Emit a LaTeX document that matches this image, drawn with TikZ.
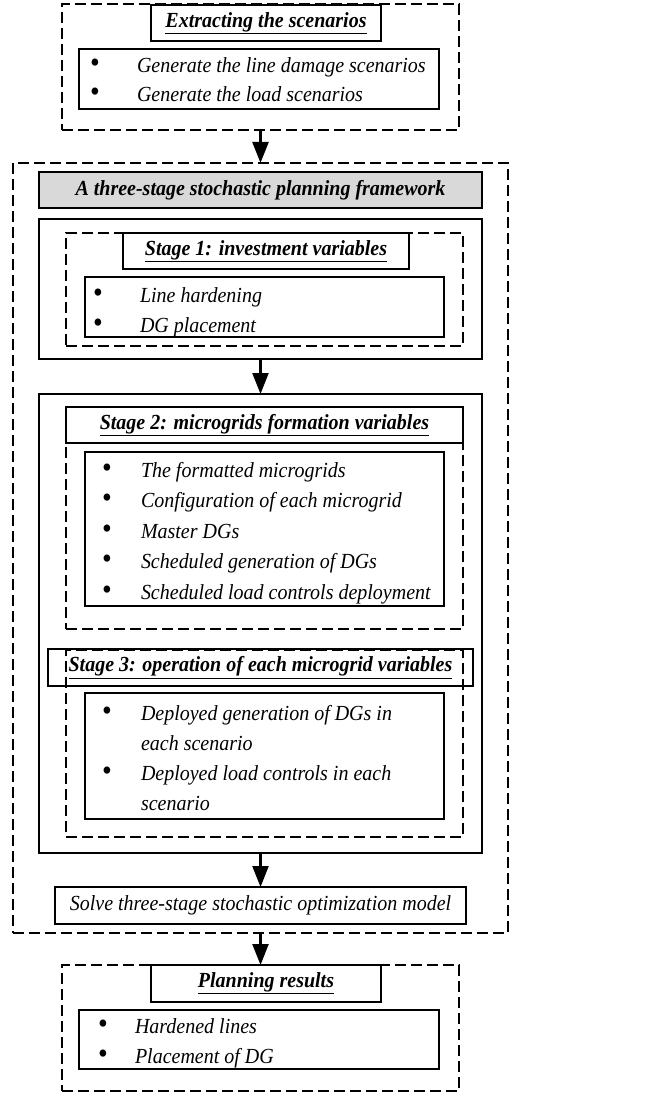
\documentclass[tikz,border=0pt]{standalone}
\usepackage{fontspec}
\setmainfont{Liberation Serif}[FakeStretch=0.93]
\usetikzlibrary{arrows.meta}
\definecolor{hdrgray}{RGB}{217,217,217}

\begin{document}
\begin{tikzpicture}[x=1pt,y=-1pt,
  every node/.style={inner sep=0pt, outer sep=0pt},
  dbox/.style={draw, line width=1.4pt, dash pattern=on 11pt off 5pt},
  sbox/.style={draw, line width=1.4pt},
  hdr/.style={sbox, font=\fontsize{21.5}{30}\selectfont\bfseries\itshape},
  itxt/.style={anchor=base west, align=left, font=\fontsize{21.5}{30}\selectfont\itshape},
  bul/.style={anchor=base, font=\fontsize{30}{30}\selectfont},
  flow/.style={line width=2.4pt, -{Triangle[length=21pt,width=16pt]}}
]
\useasboundingbox (0,0) rectangle (667,1094);

% --- scenario extraction ---
\node[dbox, minimum width=397pt, minimum height=126pt] (ext) at (260.5,67) {};
\node[hdr, minimum width=230pt, minimum height=36pt] (extT) at (266,23) {\underline{Extracting the scenarios}};
\node[sbox, minimum width=360pt, minimum height=60pt] (extB) at (259,79) {};
\node[bul] (eb1) at (95,72.5) {•};
\node[itxt] (et1) at (137,72.5) {Generate the line damage scenarios};
\node[bul] (eb2) at (95,102) {•};
\node[itxt] (et2) at (137,102) {Generate the load scenarios};

% --- planning framework ---
\node[dbox, minimum width=495pt, minimum height=770pt] (frame) at (260.5,548) {};
\node[hdr, fill=hdrgray, minimum width=443pt, minimum height=36pt] (fwT) at (260.5,190) {A three-stage stochastic planning framework};

% stage 1
\node[sbox, minimum width=443pt, minimum height=140pt] (s1) at (260.5,289) {};
\node[dbox, minimum width=397pt, minimum height=113pt] (s1d) at (264.5,289.5) {};
\node[hdr, minimum width=286pt, minimum height=36pt] (s1T) at (266,251) {\underline{Stage 1: investment variables}};
\node[sbox, minimum width=359pt, minimum height=60pt] (s1B) at (264.5,307) {};
\node[bul] (ab1) at (98,302) {•};
\node[itxt] (at1) at (140,302) {Line hardening};
\node[bul] (ab2) at (98,332) {•};
\node[itxt] (at2) at (140,332) {DG placement};

% stages 2 and 3
\node[sbox, minimum width=443pt, minimum height=459pt] (s23) at (260.5,623.5) {};

\node[dbox, minimum width=397pt, minimum height=222pt] (s2d) at (264.5,518) {};
\node[hdr, minimum width=397pt, minimum height=36pt] (s2T) at (264.5,425) {\underline{Stage 2: microgrids formation variables}};
\node[sbox, minimum width=359pt, minimum height=154pt] (s2B) at (264.5,529) {};
\node[bul] (bb1) at (107,477) {•};
\node[itxt] (bt1) at (141,477) {The formatted microgrids};
\node[bul] (bb2) at (107,507.5) {•};
\node[itxt] (bt2) at (141,507.5) {Configuration of each microgrid};
\node[bul] (bb3) at (107,538) {•};
\node[itxt] (bt3) at (141,538) {Master DGs};
\node[bul] (bb4) at (107,568.5) {•};
\node[itxt] (bt4) at (141,568.5) {Scheduled generation of DGs};
\node[bul] (bb5) at (107,599) {•};
\node[itxt] (bt5) at (141,599) {Scheduled load controls deployment};

\node[dbox, minimum width=397pt, minimum height=187pt] (s3d) at (264.5,743.5) {};
\node[hdr, minimum width=425pt, minimum height=37pt] (s3T) at (260.5,667.5) {\underline{Stage 3: operation of each microgrid variables}};
\node[sbox, minimum width=359pt, minimum height=126pt] (s3B) at (264.5,756) {};
% two-line items: the base anchor sits on the last line
\node[bul] (cb1) at (107,720) {•};
\node[itxt] (ct1) at (141,750) {Deployed generation of DGs in\\each scenario};
\node[bul] (cb2) at (107,780) {•};
\node[itxt] (ct2) at (141,810) {Deployed load controls in each\\scenario};

% solver
\node[sbox, minimum width=411pt, minimum height=37pt, font=\fontsize{21.5}{30}\selectfont\itshape] (solve) at (260.5,905.5) {Solve three-stage stochastic optimization model};

% --- results ---
\node[dbox, minimum width=397pt, minimum height=126pt] (res) at (260.5,1028) {};
\node[hdr, minimum width=230pt, minimum height=37pt] (resT) at (266,983.5) {\underline{Planning results}};
\node[sbox, minimum width=360pt, minimum height=59pt] (resB) at (259,1039.5) {};
\node[bul] (rb1) at (103,1033) {•};
\node[itxt] (rt1) at (135,1033) {Hardened lines};
\node[bul] (rb2) at (103,1063) {•};
\node[itxt] (rt2) at (135,1063) {Placement of DG};

% --- flow arrows ---
\draw[flow] (ext.south) -- (frame.north);
\draw[flow] (s1.south) -- (s23.north);
\draw[flow] (s23.south) -- (solve.north);
\draw[flow] (frame.south) -- (res.north);
\end{tikzpicture}
\end{document}
